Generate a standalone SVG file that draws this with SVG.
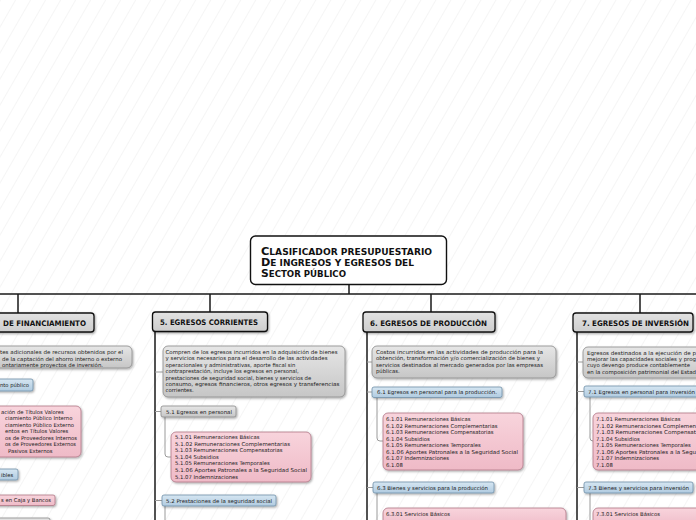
<svg xmlns="http://www.w3.org/2000/svg" width="696" height="520" viewBox="0 0 696 520">
<defs>
<pattern id="hatch" width="13" height="13" patternUnits="userSpaceOnUse" patternTransform="rotate(30)">
<line x1="0" y1="0" x2="0" y2="13" stroke="#ebebeb" stroke-width="1"/>
</pattern>
<linearGradient id="gGray" x1="0" y1="0" x2="0" y2="1"><stop offset="0" stop-color="#e6e6e6"/><stop offset="1" stop-color="#c6c6c6"/></linearGradient>
<linearGradient id="gHdr" x1="0" y1="0" x2="0" y2="1"><stop offset="0" stop-color="#e2e2e2"/><stop offset="1" stop-color="#cdcdcd"/></linearGradient>
<linearGradient id="gBlue" x1="0" y1="0" x2="0" y2="1"><stop offset="0" stop-color="#d6e6f2"/><stop offset="1" stop-color="#b0cbe0"/></linearGradient>
<linearGradient id="gPink" x1="0" y1="0" x2="0" y2="1"><stop offset="0" stop-color="#f8d4dc"/><stop offset="1" stop-color="#efbac7"/></linearGradient>
<filter id="sh" x="-10%" y="-10%" width="130%" height="140%"><feDropShadow dx="1" dy="1.2" stdDeviation="0.8" flood-color="#000" flood-opacity="0.35"/></filter>
</defs>
<style>
.title{fill:#fff;stroke:#111;stroke-width:1.4}
.hdr{fill:url(#gHdr);stroke:#111;stroke-width:1.3;filter:url(#sh)}
.desc{fill:url(#gGray);stroke:#8a8a8a;stroke-width:0.8;filter:url(#sh)}
.blue{fill:url(#gBlue);stroke:#6f8fa8;stroke-width:0.8;filter:url(#sh)}
.pink{fill:url(#gPink);stroke:#b07686;stroke-width:0.8;filter:url(#sh)}
.sp{fill:none;stroke:#1a1a1a;stroke-width:1.5}
.sub{fill:none;stroke:#9a9a9a;stroke-width:1}
.tt{font-family:"DejaVu Sans",Verdana,sans-serif;font-weight:bold;fill:#111}
.ht{font-family:"DejaVu Sans",Verdana,sans-serif;font-weight:bold;font-size:7.6px;fill:#111}
.st{font-family:"DejaVu Sans",Verdana,sans-serif;font-size:5.3px;fill:#1a1a1a}
</style>
<rect width="696" height="520" fill="#fff"/>
<rect width="696" height="520" fill="url(#hatch)"/>

<g id="connectors">
<path class="sp" d="M349 284.5V294M0 294H696"/>
<path class="sp" d="M18 294V313M210 294V312M431 294V312M640 294V313"/>
<path class="sp" d="M155 331.5V520M367 332V520M577 332V520"/>
<path class="sub" d="M155 372H163M155 411.5H161M155 500.5H162M165 417V454Q165 457 168 457H171M165 506V520"/>
<path class="sub" d="M367 362H372M367 392H372M367 487.5H373M377 397.5V438Q377 441 380 441H383M377 493V520"/>
<path class="sub" d="M577 362H583M577 391.5H584M577 487.5H584M590 397V438Q590 441 593 441H596M590 493V520"/>
</g>

<g id="title">
<rect class="title" x="250.5" y="236" width="196" height="48.5" rx="5"/>
<text class="tt" x="261" y="254.5" textLength="171" lengthAdjust="spacingAndGlyphs"><tspan font-size="10">C</tspan><tspan font-size="8">LASIFICADOR PRESUPUESTARIO</tspan></text>
<text class="tt" x="261" y="265.5" textLength="153" lengthAdjust="spacingAndGlyphs"><tspan font-size="10">D</tspan><tspan font-size="8">E INGRESOS Y EGRESOS DEL</tspan></text>
<text class="tt" x="261" y="276.5" textLength="85" lengthAdjust="spacingAndGlyphs"><tspan font-size="10">S</tspan><tspan font-size="8">ECTOR PÚBLICO</tspan></text>
</g>

<g id="col4">
<g id="h4"><rect class="hdr" x="-10" y="313" width="104" height="19" rx="3"/><text class="ht" x="3" y="325.5" textLength="83" lengthAdjust="spacingAndGlyphs">DE FINANCIAMIENTO</text></g>
<g id="d4"><rect class="desc" x="-10" y="346" width="142" height="22" rx="5"/>
<text class="st" x="0" y="354" textLength="123" lengthAdjust="spacingAndGlyphs">tes adicionales de recursos obtenidos por el</text>
<text class="st" x="2" y="360.5" textLength="120" lengthAdjust="spacingAndGlyphs">de la captación del ahorro interno o externo</text>
<text class="st" x="2" y="367" textLength="101" lengthAdjust="spacingAndGlyphs">ontariamente proyectos de inversión.</text></g>
<g id="n4a"><rect class="blue" x="-10" y="379" width="43" height="12" rx="2"/><text class="st" x="0" y="387" textLength="29" lengthAdjust="spacingAndGlyphs">nto público</text></g>
<g id="n4b"><rect class="pink" x="-10" y="406" width="91" height="51" rx="5"/>
<text class="st" x="1" y="413.5">ación de Títulos Valores</text>
<text class="st" x="5" y="420">ciamiento Público Interno</text>
<text class="st" x="5" y="426.5">ciamiento Público Externo</text>
<text class="st" x="5" y="433">entos en Títulos Valores</text>
<text class="st" x="5" y="439.5">os de Proveedores Internos</text>
<text class="st" x="5" y="446" textLength="71" lengthAdjust="spacingAndGlyphs">os de Proveedores Externos</text>
<text class="st" x="8" y="452.5">Pasivos Externos</text></g>
<g id="n4c"><rect class="blue" x="-10" y="469" width="28" height="11" rx="2"/><text class="st" x="1" y="476.5">ibles</text></g>
<g id="n4d"><rect class="pink" x="-10" y="495" width="65" height="10.5" rx="2"/><text class="st" x="1" y="502" textLength="50" lengthAdjust="spacingAndGlyphs">s en Caja y Bancos</text></g>
<g id="n4e"><rect class="desc" x="-10" y="518" width="60" height="12" rx="2"/></g>
</g>

<g id="col5">
<g id="h5"><rect class="hdr" x="152.5" y="312" width="115" height="19.5" rx="3"/><text class="ht" x="160" y="325" textLength="98" lengthAdjust="spacingAndGlyphs">5. EGRESOS CORRIENTES</text></g>
<g id="d5"><rect class="desc" x="163" y="346" width="182" height="51" rx="5"/>
<text class="st" x="165.5" y="354" textLength="172" lengthAdjust="spacingAndGlyphs">Compren de los egresos incurridos en la adquisición de bienes</text>
<text class="st" x="165.5" y="360.4" textLength="162" lengthAdjust="spacingAndGlyphs">y servicios necesarios para el desarrollo de  las actividades</text>
<text class="st" x="165.5" y="366.8">operacionales y administrativas, aporte fiscal sin</text>
<text class="st" x="165.5" y="373.2">contraprestación, incluye los egresos en personal,</text>
<text class="st" x="165.5" y="379.6">prestaciones de seguridad social, bienes y servicios de</text>
<text class="st" x="165.5" y="386" textLength="174" lengthAdjust="spacingAndGlyphs">consumo, egresos financieros, otros egresos y transferencias</text>
<text class="st" x="165.5" y="392.4">corrientes.</text></g>
<g id="n51"><rect class="desc" x="161" y="406" width="75" height="11" rx="2"/><text class="st" x="166" y="413.5" textLength="66" lengthAdjust="spacingAndGlyphs">5.1 Egresos en personal</text></g>
<g id="n51a"><rect class="pink" x="171" y="432" width="140" height="50" rx="5"/>
<text class="st" x="175" y="439">5.1.01 Remuneraciones Básicas</text>
<text class="st" x="175" y="445.6" textLength="115" lengthAdjust="spacingAndGlyphs">5.1.02 Remuneraciones Complementarias</text>
<text class="st" x="175" y="452.2">5.1.03 Remuneraciones Compensatorias</text>
<text class="st" x="175" y="458.8">5.1.04 Subsidios</text>
<text class="st" x="175" y="465.4">5.1.05 Remuneraciones Temporales</text>
<text class="st" x="175" y="472" textLength="132" lengthAdjust="spacingAndGlyphs">5.1.06 Aportes Patronales a la Seguridad Social</text>
<text class="st" x="175" y="478.6">5.1.07 Indemnizaciones</text></g>
<g id="n52"><rect class="blue" x="162" y="495" width="114" height="11" rx="2"/><text class="st" x="166" y="502.5" textLength="106" lengthAdjust="spacingAndGlyphs">5.2 Prestaciones de la seguridad social</text></g>
</g>

<g id="col6">
<g id="h6"><rect class="hdr" x="363" y="312" width="132" height="20" rx="3"/><text class="ht" x="370" y="325.5" textLength="117" lengthAdjust="spacingAndGlyphs">6. EGRESOS DE PRODUCCIÒN</text></g>
<g id="d6"><rect class="desc" x="372" y="346" width="184" height="32" rx="5"/>
<text class="st" x="376" y="354" textLength="167" lengthAdjust="spacingAndGlyphs">Costos incurridos en las actividades de producción para la</text>
<text class="st" x="376" y="360.4" textLength="164" lengthAdjust="spacingAndGlyphs">obtención, transformación y/o comercialización de bienes y</text>
<text class="st" x="376" y="366.8" textLength="167" lengthAdjust="spacingAndGlyphs">servicios destinados al mercado generados por las empresas</text>
<text class="st" x="376" y="373.2">públicas.</text></g>
<g id="n61"><rect class="blue" x="372" y="387" width="130" height="10.5" rx="2"/><text class="st" x="377" y="394.2" textLength="120" lengthAdjust="spacingAndGlyphs">6.1 Egresos en personal para la producción.</text></g>
<g id="n61a"><rect class="pink" x="383" y="413" width="140" height="57" rx="5"/>
<text class="st" x="386" y="421">6.1.01 Remuneraciones Básicas</text>
<text class="st" x="386" y="427.5">6.1.02 Remuneraciones Complementarias</text>
<text class="st" x="386" y="434">6.1.03 Remuneraciones Compensatorias</text>
<text class="st" x="386" y="440.5">6.1.04 Subsidios</text>
<text class="st" x="386" y="447">6.1.05 Remuneraciones Temporales</text>
<text class="st" x="386" y="453.5" textLength="132" lengthAdjust="spacingAndGlyphs">6.1.06 Aportes Patronales a la Seguridad Social</text>
<text class="st" x="386" y="460">6.1.07 Indemnizaciones</text>
<text class="st" x="386" y="466.5">6.1.08</text></g>
<g id="n63"><rect class="blue" x="373" y="482" width="121" height="11" rx="2"/><text class="st" x="377" y="489.5" textLength="111" lengthAdjust="spacingAndGlyphs">6.3 Bienes y servicios para la producción</text></g>
<g id="n63a"><rect class="pink" x="383" y="508" width="183" height="20" rx="5"/><text class="st" x="386" y="516">6.3.01 Servicios Básicos</text></g>
</g>

<g id="col7">
<g id="h7"><rect class="hdr" x="573" y="313" width="120" height="19" rx="3"/><text class="ht" x="582" y="325.5" textLength="107" lengthAdjust="spacingAndGlyphs">7. EGRESOS DE INVERSIÓN</text></g>
<g id="d7"><rect class="desc" x="583" y="347" width="130" height="31" rx="5"/>
<text class="st" x="587" y="354.5" textLength="109" lengthAdjust="spacingAndGlyphs">Egresos destinados a la ejecución de p</text>
<text class="st" x="587" y="360.9" textLength="109" lengthAdjust="spacingAndGlyphs">mejorar las capacidades sociales y prog</text>
<text class="st" x="587" y="367.3" textLength="103" lengthAdjust="spacingAndGlyphs">cuyo devengo produce contablemente</text>
<text class="st" x="587" y="373.7" textLength="109" lengthAdjust="spacingAndGlyphs">en la composición patrimonial del Estad</text></g>
<g id="n71"><rect class="blue" x="584" y="386" width="125" height="11" rx="2"/><text class="st" x="588" y="393.5" textLength="107" lengthAdjust="spacingAndGlyphs">7.1 Egresos en personal para inversión</text></g>
<g id="n71a"><rect class="pink" x="593" y="413" width="120" height="57" rx="5"/>
<text class="st" x="596" y="421">7.1.01 Remuneraciones Básicas</text>
<text class="st" x="596" y="427.5" textLength="100" lengthAdjust="spacingAndGlyphs">7.1.02 Remuneraciones Complemen</text>
<text class="st" x="596" y="434" textLength="100" lengthAdjust="spacingAndGlyphs">7.1.03 Remuneraciones Compensat</text>
<text class="st" x="596" y="440.5">7.1.04 Subsidios</text>
<text class="st" x="596" y="447">7.1.05 Remuneraciones Temporales</text>
<text class="st" x="596" y="453.5" textLength="100" lengthAdjust="spacingAndGlyphs">7.1.06 Aportes Patronales a la Segu</text>
<text class="st" x="596" y="460">7.1.07 Indemnizaciones</text>
<text class="st" x="596" y="466.5">7.1.08</text></g>
<g id="n73"><rect class="blue" x="584" y="482" width="109" height="11" rx="2"/><text class="st" x="588" y="489.5" textLength="101" lengthAdjust="spacingAndGlyphs">7.3 Bienes y servicios para inversión</text></g>
<g id="n73a"><rect class="pink" x="593" y="508" width="120" height="20" rx="5"/><text class="st" x="596" y="516">7.3.01 Servicios Básicos</text></g>
</g>
</svg>
